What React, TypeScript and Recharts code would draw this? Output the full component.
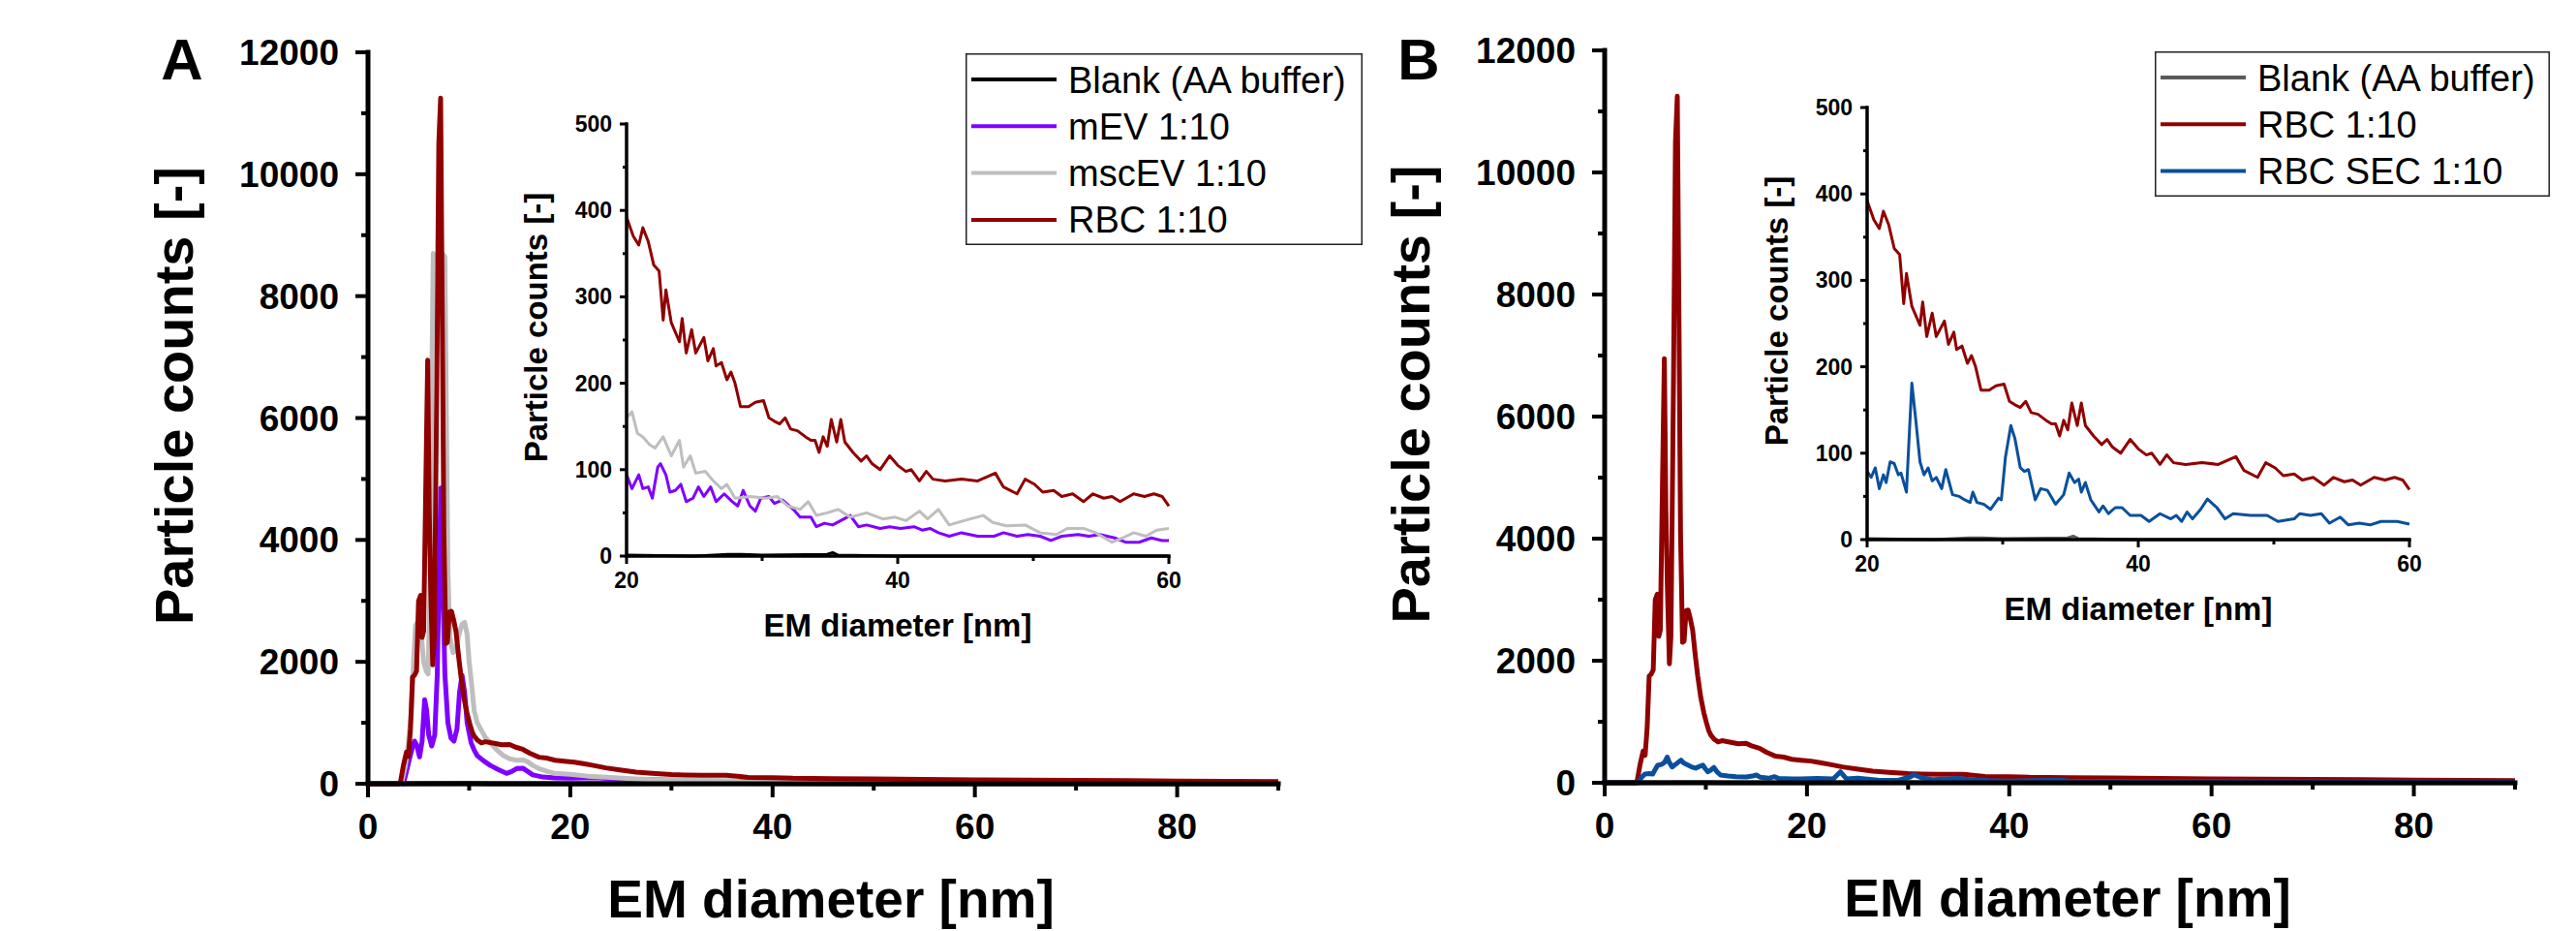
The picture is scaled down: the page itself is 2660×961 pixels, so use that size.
import React from "react";
import { LineChart, Line, XAxis, YAxis, Label, Legend } from "recharts";

const W = 2660;
const H = 961;
const FONT = '"Liberation Sans", Arial, Helvetica, sans-serif';

// series names and colours
const NAME_BLANK = "Blank (AA buffer)";
const NAME_MEV = "mEV 1:10";
const NAME_MSC = "mscEV 1:10";
const NAME_RBC = "RBC 1:10";
const NAME_SEC = "RBC SEC 1:10";

const C_BLANK_A = "#000000";
const C_BLANK_B = "#5a5a5a";
const C_MEV = "#7f00ff";
const C_MSC = "#bebebe";
const C_RBC = "#900000";
const C_SEC = "#0b4f9c";

// axis ticks
const mainXTicks = [0, 10, 20, 30, 40, 50, 60, 70, 80, 90];
const mainYTicks = [0, 1000, 2000, 3000, 4000, 5000, 6000, 7000, 8000, 9000, 10000, 11000, 12000];
const insetXTicks = [20, 30, 40, 50, 60];
const insetYTicks = [0, 50, 100, 150, 200, 250, 300, 350, 400, 450, 500];

// main plots: [EM diameter nm, counts]
const rbcMain = [
  [0, 0], [3.0, 0], [3.2, 20], [3.5, 300], [3.8, 520], [4.0, 450], [4.2, 900], [4.4, 1750], [4.6, 1780],
  [4.8, 1850], [5.0, 3000], [5.2, 3090], [5.35, 2400], [5.5, 2500], [5.9, 6950], [6.05, 4500], [6.2, 3200],
  [6.4, 1950], [6.55, 2400], [6.8, 6500], [7.0, 10500], [7.18, 11250], [7.35, 7500], [7.5, 4100], [7.7, 2300],
  [7.85, 2320], [8.05, 2820], [8.25, 2830], [8.45, 2700], [8.7, 2500], [8.95, 2100], [9.2, 1750], [9.5, 1400],
  [9.8, 1150], [10.05, 990], [10.3, 850], [10.5, 780], [10.8, 720], [11.2, 670], [11.6, 690], [12.1, 675],
  [12.6, 660], [13.2, 640], [14.0, 645], [14.6, 600], [15.3, 565], [16.0, 500], [16.9, 435], [17.7, 420],
  [18.5, 385], [19.4, 370], [20.4, 355], [21.3, 330], [22.3, 300], [23.5, 260], [24.9, 225], [26.5, 190],
  [28.1, 170], [30, 150], [31.3, 143], [33, 140], [35.4, 140], [37.6, 105], [40, 100], [42, 90], [45.9, 85],
  [50, 78], [55, 70], [60, 65], [65, 60], [70, 55], [75, 50], [80, 45], [85, 40], [90, 35],
];

const mscMain = [
  [0, 0], [3.3, 0], [3.7, 300], [4.0, 680], [4.3, 1200], [4.5, 2000], [4.7, 2600], [4.9, 2650], [5.1, 2550],
  [5.3, 2400], [5.5, 2000], [5.75, 1850], [5.95, 1800], [6.15, 3500], [6.3, 6500], [6.45, 8700], [6.7, 8650],
  [7.0, 8700], [7.3, 8700], [7.6, 8650], [7.75, 6000], [7.9, 3500], [8.1, 2400], [8.4, 2150], [8.7, 2200],
  [9.0, 2450], [9.3, 2620], [9.55, 2650], [9.8, 2450], [10.0, 2000], [10.2, 1700], [10.5, 1200], [10.8, 1000],
  [11.2, 880], [11.6, 760], [12.1, 670], [12.7, 560], [13.4, 460], [14.0, 410], [14.7, 385], [15.3, 390],
  [15.8, 360], [16.3, 300], [16.9, 250], [17.7, 205], [18.5, 170], [20, 155], [21.7, 125], [24, 105],
  [26, 85], [28, 68], [30, 65], [35, 52], [40, 43], [45, 40], [50, 30], [55, 22], [60, 28], [70, 20],
  [80, 16], [90, 12],
];

const mevMain = [
  [0, 0], [3.5, 0], [3.8, 200], [4.1, 410], [4.4, 600], [4.6, 700], [4.8, 640], [5.1, 440], [5.35, 700],
  [5.6, 1380], [5.8, 1200], [6.0, 800], [6.3, 620], [6.6, 800], [6.85, 1800], [7.05, 3600], [7.2, 4850],
  [7.35, 3600], [7.6, 1800], [7.9, 1000], [8.2, 750], [8.5, 700], [8.8, 900], [9.05, 1500], [9.3, 1780],
  [9.55, 1500], [9.8, 1000], [10.2, 670], [10.5, 550], [10.8, 460], [11.4, 380], [12.1, 300], [12.9, 230],
  [13.7, 170], [14.2, 200], [14.7, 250], [15.3, 255], [15.8, 200], [16.3, 145], [17.3, 110], [18.5, 95],
  [20, 90], [22.5, 100], [25, 72], [30, 60], [35, 38], [40, 33], [45, 25], [50, 23], [55, 22], [60, 18],
  [70, 15], [80, 12], [90, 10],
];

const secMain = [
  [0, 0], [3.3, 0], [3.6, 80], [3.97, 143], [4.4, 150], [4.75, 143], [5.0, 220], [5.23, 286], [5.6, 300],
  [5.9, 330], [6.19, 420], [6.4, 330], [6.67, 260], [7.0, 300], [7.3, 340], [7.55, 370], [7.78, 330],
  [8.1, 300], [8.58, 260], [9.0, 240], [9.4, 270], [9.7, 290], [9.95, 230], [10.2, 180], [10.5, 210],
  [10.8, 250], [11.1, 180], [11.45, 127], [12.2, 110], [13.0, 100], [14.0, 95], [14.6, 110], [15.0, 127],
  [15.4, 90], [16.2, 74], [16.8, 100], [17.2, 70], [18.5, 65], [19.4, 64], [21, 70], [22.6, 64], [23.3, 180],
  [23.9, 64], [25, 75], [27, 45], [29, 40], [30.2, 95], [30.6, 132], [31.3, 83], [32.5, 50], [35, 70],
  [36.5, 46], [38, 35], [40, 28], [45, 45], [46, 25], [50, 25], [55, 20], [60, 18], [70, 15], [80, 12], [90, 10],
];

const blankMain = [[0, 0], [10, 2], [20, 1], [35, 3], [50, 1], [90, 0]];

// insets, 20-60 nm
const rbcInset = [
  [20, 392], [20.5, 370], [20.9, 360], [21.2, 380], [21.6, 364], [22.0, 337], [22.4, 330], [22.7, 273],
  [22.9, 308], [23.3, 270], [23.9, 248], [24.1, 275], [24.4, 235], [24.8, 262], [25.1, 235], [25.7, 253],
  [26.0, 226], [26.4, 240], [26.6, 220], [27.0, 224], [27.4, 204], [27.7, 213], [28.0, 200], [28.4, 173],
  [29.0, 173], [29.5, 178], [30.1, 180], [30.5, 160], [30.9, 156], [31.3, 153], [31.7, 160], [32.1, 147],
  [32.6, 145], [33.2, 138], [33.6, 134], [33.9, 134], [34.2, 120], [34.5, 138], [34.8, 127], [35.1, 158],
  [35.5, 132], [35.8, 158], [36.1, 132], [36.7, 120], [37.3, 110], [37.7, 116], [38.1, 107], [38.7, 100],
  [39.4, 116], [40.0, 105], [40.6, 98], [41.0, 100], [41.6, 87], [42.1, 98], [42.6, 89], [43.5, 87],
  [44.7, 89], [45.9, 87], [47.2, 96], [47.8, 80], [48.8, 72], [49.4, 89], [50.1, 83], [50.7, 74], [51.5, 76],
  [52.1, 69], [52.9, 72], [53.7, 63], [54.4, 72], [55.2, 67], [55.8, 69], [56.4, 63], [57.4, 72], [58.2, 69],
  [58.9, 72], [59.5, 69], [60, 58],
];

const mscInset = [
  [20, 160], [20.4, 167], [20.8, 142], [21.2, 138], [21.7, 129], [22.1, 125], [22.7, 138], [23.3, 116],
  [23.9, 134], [24.2, 103], [24.7, 116], [25.1, 96], [25.8, 98], [26.4, 87], [27.0, 78], [27.4, 83],
  [28.0, 67], [29.1, 69], [30.3, 67], [31.1, 69], [31.9, 58], [32.8, 54], [33.4, 63], [34.0, 47], [34.8, 50],
  [35.6, 54], [36.5, 45], [37.7, 50], [38.9, 43], [39.8, 45], [40.6, 41], [41.6, 52], [42.2, 43], [43.0, 54],
  [43.8, 36], [44.9, 41], [46.3, 47], [47.0, 39], [48.0, 35], [49.4, 36], [50.5, 27], [51.7, 25], [52.5, 32],
  [53.7, 32], [54.6, 27], [55.8, 16], [56.6, 21], [57.4, 27], [58.3, 23], [59.1, 30], [60, 32],
];

const mevInset = [
  [20, 94], [20.4, 78], [20.9, 94], [21.2, 78], [21.6, 80], [21.9, 67], [22.3, 103], [22.5, 107], [22.9, 94],
  [23.2, 74], [23.6, 76], [24.0, 83], [24.4, 63], [24.9, 67], [25.3, 80], [25.7, 69], [26.2, 80], [26.6, 63],
  [27.2, 72], [27.8, 63], [28.2, 58], [28.6, 76], [29.1, 58], [29.5, 52], [29.9, 67], [30.5, 69], [30.9, 61],
  [31.5, 65], [32.3, 54], [32.8, 45], [33.6, 45], [34.0, 34], [34.6, 38], [35.2, 36], [35.8, 41], [36.5, 47],
  [37.1, 34], [37.7, 36], [38.7, 32], [39.4, 34], [40.2, 32], [41.2, 34], [41.8, 30], [42.4, 32], [43.0, 27],
  [43.8, 23], [44.7, 27], [45.9, 23], [47.1, 23], [47.8, 27], [48.8, 23], [49.6, 25], [50.5, 23], [51.3, 18],
  [52.1, 23], [53.3, 25], [54.1, 23], [54.9, 25], [56.0, 21], [56.8, 16], [57.8, 16], [58.7, 21], [59.5, 18],
  [60, 18],
];

const secInset = [
  [20, 79], [20.3, 72], [20.6, 83], [20.9, 59], [21.2, 75], [21.4, 66], [21.7, 90], [22.0, 88], [22.3, 75],
  [22.5, 77], [22.9, 55], [23.3, 181], [23.6, 137], [23.9, 90], [24.2, 75], [24.5, 83], [24.8, 68], [25.1, 72],
  [25.5, 59], [25.8, 81], [26.3, 52], [26.8, 50], [27.2, 46], [27.6, 43], [27.8, 55], [28.1, 43], [28.6, 41],
  [29.1, 35], [29.7, 48], [29.9, 46], [30.2, 95], [30.6, 132], [30.9, 117], [31.3, 83], [31.6, 79], [31.9, 81],
  [32.4, 46], [32.8, 59], [33.3, 57], [33.9, 41], [34.5, 52], [34.9, 77], [35.3, 66], [35.6, 70], [35.8, 55],
  [36.1, 66], [36.5, 46], [37.1, 32], [37.4, 39], [37.8, 30], [38.3, 37], [38.8, 37], [39.4, 28], [40.2, 28],
  [40.8, 21], [41.6, 30], [42.4, 24], [42.8, 28], [43.2, 21], [43.6, 32], [44.0, 24], [44.6, 35], [45.1, 47],
  [45.8, 37], [46.4, 24], [47.0, 30], [48.3, 28], [49.5, 28], [50.3, 21], [51.5, 24], [51.9, 30], [52.7, 28],
  [53.5, 30], [54.1, 19], [54.9, 26], [55.5, 17], [56.3, 19], [57.1, 17], [57.9, 21], [59.1, 21], [60, 18],
];

const blankInset = [
  [20, 1], [25, 0], [27.5, 2], [28.5, 2], [30, 1], [34.8, 2], [35.2, 4], [35.6, 1], [40, 0], [50, 0], [60, 0],
];

const pts = (a: number[][]) => a.map(([x, y]) => ({ x, y }));

const legendA = [
  [NAME_BLANK, C_BLANK_A],
  [NAME_MEV, C_MEV],
  [NAME_MSC, C_MSC],
  [NAME_RBC, C_RBC],
];
const legendB = [
  [NAME_BLANK, C_BLANK_B],
  [NAME_RBC, C_RBC],
  [NAME_SEC, C_SEC],
];

function MainXTick(props: any) {
  const { x, y, payload } = props;
  const major = payload.value % 20 === 0;
  return (
    <g>
      <line x1={x} x2={x} y1={y} y2={y + (major ? 14 : 7)} stroke="#000" strokeWidth={4} />
      {major && (
        <text x={x} y={y + 57} textAnchor="middle" fontFamily={FONT} fontWeight="bold" fontSize={37} fill="#000">
          {payload.value}
        </text>
      )}
    </g>
  );
}

function MainYTick(props: any) {
  const { x, y, payload } = props;
  const major = payload.value % 2000 === 0;
  return (
    <g>
      <line x1={x - (major ? 13 : 7)} x2={x} y1={y} y2={y} stroke="#000" strokeWidth={4} />
      {major && (
        <text x={x - 30} y={y + 13} textAnchor="end" fontFamily={FONT} fontWeight="bold" fontSize={37} fill="#000">
          {payload.value}
        </text>
      )}
    </g>
  );
}

function InsetXTick(props: any) {
  const { x, y, payload } = props;
  const major = payload.value % 20 === 0;
  return (
    <g>
      <line x1={x} x2={x} y1={y} y2={y + (major ? 8 : 5)} stroke="#000" strokeWidth={3} />
      {major && (
        <text x={x} y={y + 33} textAnchor="middle" fontFamily={FONT} fontWeight="bold" fontSize={23} fill="#000">
          {payload.value}
        </text>
      )}
    </g>
  );
}

function InsetYTick(props: any) {
  const { x, y, payload } = props;
  const major = payload.value % 100 === 0;
  return (
    <g>
      <line x1={x - (major ? 7 : 4)} x2={x} y1={y} y2={y} stroke="#000" strokeWidth={3} />
      {major && (
        <text x={x - 15} y={y + 8} textAnchor="end" fontFamily={FONT} fontWeight="bold" fontSize={23} fill="#000">
          {payload.value}
        </text>
      )}
    </g>
  );
}

function Title({ x, y, size, vertical, children }: any) {
  return (
    <text
      x={x}
      y={y}
      textAnchor="middle"
      fontFamily={FONT}
      fontWeight="bold"
      fontSize={size}
      fill="#000"
      transform={vertical ? `rotate(-90 ${x} ${y})` : undefined}
    >
      {children}
    </text>
  );
}

function LegendBox({ items, width, height }: any) {
  return (
    <svg width={width} height={height} style={{ display: "block" }}>
      <rect x={0.75} y={0.75} width={width - 1.5} height={height - 1.5} fill="#fff" stroke="#222" strokeWidth={1.5} />
      {items.map(([name, color]: any, i: number) => {
        const cy = 27 + i * 48.3;
        return (
          <g key={name}>
            <line x1={6} x2={94} y1={cy} y2={cy} stroke={color} strokeWidth={4} />
            <text x={106} y={cy + 13.5} fontFamily={FONT} fontSize={38} fill="#000">
              {name}
            </text>
          </g>
        );
      })}
    </svg>
  );
}

// plot rectangles (left, top, right, bottom in page px)
function margins(l: number, t: number, r: number, b: number) {
  return { left: l - 1, top: t, right: W - r, bottom: H - b - 1 };
}

function MainPanel({ rect, letter, series, legend, legendPos }: any) {
  const [l, t, r, b] = rect;
  const cx = (l + r) / 2;
  return (
    <div style={{ position: "absolute", left: 0, top: 0 }}>
      <LineChart width={W} height={H} margin={margins(l, t, r, b)}>
        <XAxis
          dataKey="x"
          type="number"
          domain={[0, 90]}
          ticks={mainXTicks}
          interval={0}
          height={1}
          tickSize={0}
          tickMargin={0}
          tickLine={false}
          tick={<MainXTick />}
          axisLine={{ stroke: "#000", strokeWidth: 5, strokeLinecap: "square" }}
        >
          <Label content={() => <Title x={cx + 8} y={b + 138} size={55}>EM diameter [nm]</Title>} />
        </XAxis>
        <YAxis
          type="number"
          domain={[0, 12000]}
          ticks={mainYTicks}
          interval={0}
          width={1}
          tickSize={0}
          tickMargin={0}
          tickLine={false}
          tick={<MainYTick />}
          axisLine={{ stroke: "#000", strokeWidth: 5, strokeLinecap: "square" }}
        >
          <Label content={() => <Title x={l - 181} y={t + (b - t) / 2 - 23} size={56} vertical>Particle counts [-]</Title>} />
          <Label content={() => <Title x={l - 192} y={82} size={60}>{letter}</Title>} />
        </YAxis>
        {series.map((s: any) => (
          <Line
            key={s.name}
            data={pts(s.data)}
            dataKey="y"
            name={s.name}
            type="linear"
            stroke={s.color}
            strokeWidth={5}
            strokeLinejoin="round"
            dot={false}
            activeDot={false}
            isAnimationActive={false}
          />
        ))}
        <Legend
          layout="vertical"
          align="center"
          verticalAlign="middle"
          wrapperStyle={{ left: legendPos[0], top: legendPos[1], width: legendPos[2], height: legendPos[3] }}
          content={() => <LegendBox items={legend} width={legendPos[2]} height={legendPos[3]} />}
        />
      </LineChart>
    </div>
  );
}

function InsetPanel({ rect, series }: any) {
  const [l, t, r, b] = rect;
  const cx = (l + r) / 2;
  return (
    <div style={{ position: "absolute", left: 0, top: 0 }}>
      <LineChart width={W} height={H} margin={margins(l, t, r, b)}>
        <XAxis
          dataKey="x"
          type="number"
          domain={[20, 60]}
          ticks={insetXTicks}
          interval={0}
          height={1}
          tickSize={0}
          tickMargin={0}
          tickLine={false}
          tick={<InsetXTick />}
          axisLine={{ stroke: "#000", strokeWidth: 3.5, strokeLinecap: "square" }}
        >
          <Label content={() => <Title x={cx} y={b + 83} size={33}>EM diameter [nm]</Title>} />
        </XAxis>
        <YAxis
          type="number"
          domain={[0, 500]}
          ticks={insetYTicks}
          interval={0}
          width={1}
          tickSize={0}
          tickMargin={0}
          tickLine={false}
          tick={<InsetYTick />}
          axisLine={{ stroke: "#000", strokeWidth: 3.5, strokeLinecap: "square" }}
        >
          <Label content={() => <Title x={l - 82} y={t + (b - t) / 2 - 13} size={33} vertical>Particle counts [-]</Title>} />
        </YAxis>
        {series.map((s: any) => (
          <Line
            key={s.name}
            data={pts(s.data)}
            dataKey="y"
            name={s.name}
            type="linear"
            stroke={s.color}
            strokeWidth={3}
            strokeLinejoin="round"
            dot={false}
            activeDot={false}
            isAnimationActive={false}
          />
        ))}
      </LineChart>
    </div>
  );
}

export default function App() {
  const mainA = [
    { name: NAME_BLANK, color: C_BLANK_A, data: blankMain },
    { name: NAME_MEV, color: C_MEV, data: mevMain },
    { name: NAME_MSC, color: C_MSC, data: mscMain },
    { name: NAME_RBC, color: C_RBC, data: rbcMain },
  ];
  const insetA = [
    { name: NAME_BLANK, color: C_BLANK_A, data: blankInset },
    { name: NAME_MEV, color: C_MEV, data: mevInset },
    { name: NAME_MSC, color: C_MSC, data: mscInset },
    { name: NAME_RBC, color: C_RBC, data: rbcInset },
  ];
  const mainB = [
    { name: NAME_BLANK, color: C_BLANK_B, data: blankMain },
    { name: NAME_RBC, color: C_RBC, data: rbcMain },
    { name: NAME_SEC, color: C_SEC, data: secMain },
  ];
  const insetB = [
    { name: NAME_BLANK, color: C_BLANK_B, data: blankInset },
    { name: NAME_RBC, color: C_RBC, data: rbcInset },
    { name: NAME_SEC, color: C_SEC, data: secInset },
  ];

  return (
    <div style={{ position: "absolute", left: 0, top: 0, width: W, height: H, background: "#fff", overflow: "hidden" }}>
      <MainPanel rect={[380, 54, 1320, 809]} letter="A" series={mainA} legend={legendA} legendPos={[997, 55, 410, 198]} />
      <InsetPanel rect={[647, 128, 1207, 574]} series={insetA} />
      <MainPanel rect={[1657, 52, 2597, 808]} letter="B" series={mainB} legend={legendB} legendPos={[2225, 53, 408, 150]} />
      <InsetPanel rect={[1928, 111, 2488, 557]} series={insetB} />
    </div>
  );
}
